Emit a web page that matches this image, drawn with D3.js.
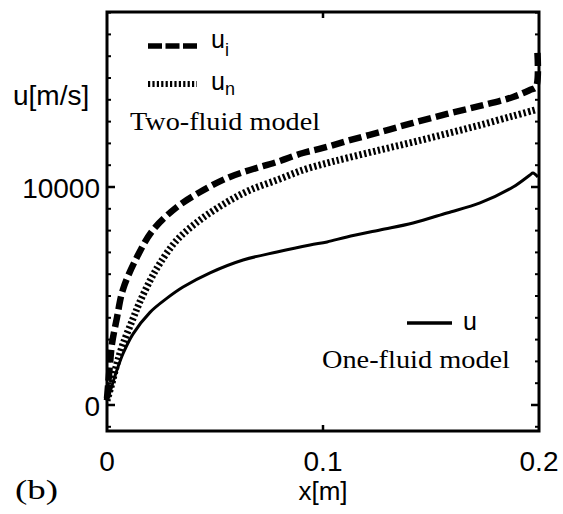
<!DOCTYPE html>
<html>
<head>
<meta charset="utf-8">
<script src="https://cdn.jsdelivr.net/npm/d3@7"></script>
<style>
  body { margin: 0; background: #fff; }
  svg { display: block; }
</style>
</head>
<body>
<div id="chart"></div>
<script>
// Ion velocity u_i (dashed)
const uiX = [0, 0.0005, 0.0014, 0.0023, 0.0046, 0.0074, 0.0139, 0.0213, 0.0324, 0.0431, 0.0556, 0.0662, 0.0787, 0.0907, 0.1, 0.1111, 0.1264, 0.1417, 0.1574, 0.1727, 0.188, 0.1958, 0.1986, 0.1992];
const uiY = [300, 900, 1900, 2800, 4000, 5300, 6790, 8030, 9080, 9770, 10410, 10780, 11150, 11560, 11790, 12110, 12520, 12940, 13350, 13720, 14130, 14450, 14590, 16300];
// Neutral velocity u_n (dotted)
const unX = [0, 0.0023, 0.0046, 0.0074, 0.012, 0.0153, 0.0199, 0.0245, 0.0324, 0.0431, 0.0556, 0.0662, 0.0787, 0.0907, 0.1019, 0.1111, 0.1264, 0.1417, 0.1574, 0.1727, 0.188, 0.1981];
const unY = [200, 1000, 1900, 2800, 3950, 4750, 5700, 6500, 7570, 8490, 9310, 9860, 10320, 10780, 11100, 11330, 11700, 12060, 12450, 12840, 13260, 13530];
// One-fluid velocity u (solid)
const uX = [0, 0.0014, 0.0028, 0.0046, 0.0074, 0.012, 0.0199, 0.0278, 0.0352, 0.0477, 0.063, 0.0787, 0.094, 0.1019, 0.1111, 0.1264, 0.1417, 0.1574, 0.1727, 0.188, 0.1958, 0.1972, 0.1995];
const uY = [230, 600, 1050, 1600, 2350, 3250, 4250, 4900, 5410, 6060, 6650, 7020, 7340, 7480, 7710, 8030, 8350, 8810, 9270, 10000, 10550, 10640, 10460];

const xTicks = [0, 0.1, 0.2];
const xTickLabels = ['0', '0.1', '0.2'];
const yTicks = [0, 10000];
const yTickLabels = ['0', '10000'];

const width = 563, height = 514;
const plotLeft = 107, plotRight = 539, plotTop = 12, plotBottom = 431;

const svg = d3.select('#chart').append('svg')
    .attr('width', width)
    .attr('height', height);

const x = d3.scaleLinear().domain([0, 0.2]).range([plotLeft, plotRight]);
const y = d3.scaleLinear().domain([-1193, 18028]).range([plotBottom, plotTop]);

const sans = 'Liberation Sans, Arial, sans-serif';
const serif = 'Liberation Serif, Times New Roman, serif';

// Inward ticks on all four sides
const minorY = d3.range(-1000, 18001, 1000).filter(v => !yTicks.includes(v));
const tickG = svg.append('g').attr('stroke', '#000');
minorY.forEach(v => {
    tickG.append('line').attr('x1', plotLeft).attr('x2', plotLeft + 4).attr('y1', y(v)).attr('y2', y(v)).attr('stroke-width', 2);
    tickG.append('line').attr('x1', plotRight).attr('x2', plotRight - 4).attr('y1', y(v)).attr('y2', y(v)).attr('stroke-width', 2);
});
yTicks.forEach(v => {
    tickG.append('line').attr('x1', plotLeft).attr('x2', plotLeft + 8).attr('y1', y(v)).attr('y2', y(v)).attr('stroke-width', 2.5);
    tickG.append('line').attr('x1', plotRight).attr('x2', plotRight - 8).attr('y1', y(v)).attr('y2', y(v)).attr('stroke-width', 2.5);
});
xTicks.slice(1, -1).forEach(v => {
    tickG.append('line').attr('x1', x(v)).attr('x2', x(v)).attr('y1', plotBottom).attr('y2', plotBottom - 6).attr('stroke-width', 2.5);
    tickG.append('line').attr('x1', x(v)).attr('x2', x(v)).attr('y1', plotTop).attr('y2', plotTop + 6).attr('stroke-width', 2.5);
});

// Frame
svg.append('rect')
    .attr('x', plotLeft).attr('y', plotTop)
    .attr('width', plotRight - plotLeft).attr('height', plotBottom - plotTop)
    .attr('fill', 'none').attr('stroke', '#000').attr('stroke-width', 3);

// Tick labels
svg.selectAll('.xlab').data(xTicks).enter().append('text')
    .attr('x', d => x(d)).attr('y', 471)
    .attr('text-anchor', 'middle')
    .style('font-family', sans).style('font-size', '28px')
    .text((d, i) => xTickLabels[i]);

svg.selectAll('.ylab').data(yTicks).enter().append('text')
    .attr('x', 100).attr('y', d => y(d) + 11)
    .attr('text-anchor', 'end')
    .style('font-family', sans).style('font-size', '28px')
    .text((d, i) => yTickLabels[i]);

// Axis titles
svg.append('text').attr('x', 323).attr('y', 500).attr('text-anchor', 'middle')
    .style('font-family', sans).style('font-size', '26px').text('x[m]');
svg.append('text').attr('x', 13).attr('y', 105)
    .style('font-family', sans).style('font-size', '28px').text('u[m/s]');
svg.append('text').attr('x', 15).attr('y', 499)
    .attr('textLength', 43).attr('lengthAdjust', 'spacingAndGlyphs')
    .style('font-family', serif).style('font-size', '27px').text('(b)');

// Curves
const line = d3.line().x(d => x(d[0])).y(d => y(d[1])).curve(d3.curveCatmullRom.alpha(0.5));

svg.append('path')
    .datum(uX.map((v, i) => [v, uY[i]]))
    .attr('d', line).attr('fill', 'none')
    .attr('stroke', '#000').attr('stroke-width', 3);

svg.append('path')
    .datum(unX.map((v, i) => [v, unY[i]]))
    .attr('d', line).attr('fill', 'none')
    .attr('stroke', '#000').attr('stroke-width', 7)
    .attr('stroke-dasharray', '2.3,2.4');

svg.append('path')
    .datum(uiX.map((v, i) => [v, uiY[i]]))
    .attr('d', line).attr('fill', 'none')
    .attr('stroke', '#000').attr('stroke-width', 6.5)
    .attr('stroke-dasharray', '13,5');

// Legend: two-fluid model
const legend = svg.append('g');
legend.append('line').attr('x1', 148).attr('x2', 197).attr('y1', 46).attr('y2', 46)
    .attr('stroke', '#000').attr('stroke-width', 5.5).attr('stroke-dasharray', '14,3.5');
legend.append('line').attr('x1', 148).attr('x2', 197).attr('y1', 84).attr('y2', 84)
    .attr('stroke', '#000').attr('stroke-width', 6).attr('stroke-dasharray', '2.2,2.2');

const ui = legend.append('text').attr('x', 211).attr('y', 48)
    .style('font-family', sans).style('font-size', '25px');
ui.append('tspan').text('u');
ui.append('tspan').attr('dy', 8).style('font-size', '18px').text('i');

const un = legend.append('text').attr('x', 211).attr('y', 90)
    .style('font-family', sans).style('font-size', '25px');
un.append('tspan').text('u');
un.append('tspan').attr('dy', 5).style('font-size', '18px').text('n');

legend.append('text').attr('x', 130).attr('y', 130)
    .attr('textLength', 190).attr('lengthAdjust', 'spacingAndGlyphs')
    .style('font-family', serif).style('font-size', '26px').text('Two-fluid model');

// Legend: one-fluid model
legend.append('line').attr('x1', 407).attr('x2', 452).attr('y1', 323).attr('y2', 323)
    .attr('stroke', '#000').attr('stroke-width', 3.5);
legend.append('text').attr('x', 463).attr('y', 330)
    .style('font-family', sans).style('font-size', '25px').text('u');
legend.append('text').attr('x', 322).attr('y', 368)
    .attr('textLength', 188).attr('lengthAdjust', 'spacingAndGlyphs')
    .style('font-family', serif).style('font-size', '26px').text('One-fluid model');
</script>
</body>
</html>
